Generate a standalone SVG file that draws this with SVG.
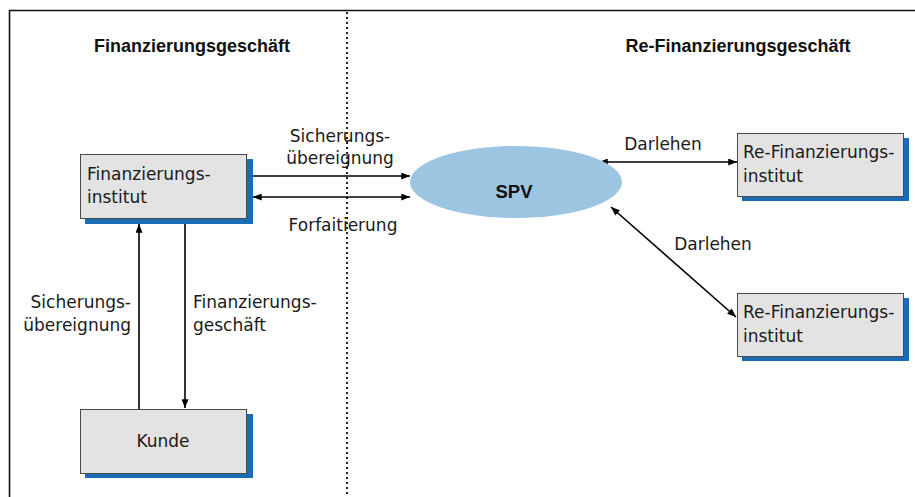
<svg xmlns="http://www.w3.org/2000/svg" width="915" height="497" viewBox="0 0 915 497">
<defs>
<style>
.lbl{font-family:"DejaVu Sans","Liberation Sans",sans-serif;font-size:17px;fill:#1a1a1a}
.hdr{font-family:"Liberation Sans",Arial,sans-serif;font-size:18px;font-weight:bold;fill:#111}
.box{fill:#e3e3e3;stroke:#4a4a4a;stroke-width:1}
.shadow{fill:#1a6db4}
.conn{stroke:#000;stroke-width:1.6;fill:none}
</style>
<marker id="ah" viewBox="0 0 10 8" refX="10" refY="4" markerWidth="10" markerHeight="7" markerUnits="userSpaceOnUse" orient="auto-start-reverse">
<path d="M0,0 L10,4 L0,8 z" fill="#000"/>
</marker>
</defs>
<rect width="915" height="497" fill="#fff"/>
<g id="frame">
<path d="M9.5,497 V10.5 H915" fill="none" stroke="#111" stroke-width="1.6"/>
<line x1="347" y1="12" x2="347" y2="497" stroke="#222" stroke-width="2" stroke-dasharray="2 3"/>
<text class="hdr" x="192" y="52" text-anchor="middle">Finanzierungsgeschäft</text>
<text class="hdr" x="738" y="52" text-anchor="middle">Re-Finanzierungsgeschäft</text>
</g>
<g id="connectors">
<line class="conn" x1="247" y1="176" x2="410" y2="176" marker-end="url(#ah)"/>
<line class="conn" x1="253" y1="197" x2="410" y2="197" marker-start="url(#ah)" marker-end="url(#ah)"/>
<line class="conn" x1="599" y1="162" x2="737" y2="162" marker-start="url(#ah)" marker-end="url(#ah)"/>
<line class="conn" x1="611" y1="207" x2="736" y2="317" marker-start="url(#ah)" marker-end="url(#ah)"/>
<line class="conn" x1="139" y1="409" x2="139" y2="224" marker-end="url(#ah)"/>
<line class="conn" x1="185" y1="224" x2="185" y2="408" marker-end="url(#ah)"/>
<text class="lbl" x="340" y="142" text-anchor="middle">Sicherungs-</text>
<text class="lbl" x="340" y="164" text-anchor="middle">übereignung</text>
<text class="lbl" x="343" y="231" text-anchor="middle">Forfaitierung</text>
<text class="lbl" x="663" y="150" text-anchor="middle">Darlehen</text>
<text class="lbl" x="713" y="250" text-anchor="middle">Darlehen</text>
<text class="lbl" x="131" y="308" text-anchor="end">Sicherungs-</text>
<text class="lbl" x="131" y="331" text-anchor="end">übereignung</text>
<text class="lbl" x="193" y="308">Finanzierungs-</text>
<text class="lbl" x="193" y="331">geschäft</text>
</g>
<g id="finanzierungsinstitut">
<rect class="shadow" x="85" y="159" width="168" height="65"/>
<rect class="box" x="80.5" y="154.5" width="166" height="64"/>
<text class="lbl" x="87" y="180">Finanzierungs-</text>
<text class="lbl" x="87" y="203">institut</text>
</g>
<g id="kunde">
<rect class="shadow" x="85" y="414" width="168" height="64"/>
<rect class="box" x="80.5" y="409.5" width="166" height="64"/>
<text class="lbl" x="163" y="447" text-anchor="middle">Kunde</text>
</g>
<g id="spv">
<ellipse cx="516" cy="182" rx="106" ry="36" fill="#9cc5e2"/>
<text x="514" y="198" text-anchor="middle" font-family="Liberation Sans,Arial,sans-serif" font-size="18.5" font-weight="bold" fill="#111">SPV</text>
</g>
<g id="refin1">
<rect class="shadow" x="742" y="138" width="167" height="63"/>
<rect class="box" x="737.5" y="133.5" width="166" height="63"/>
<text class="lbl" x="743" y="158">Re-Finanzierungs-</text>
<text class="lbl" x="743" y="182">institut</text>
</g>
<g id="refin2">
<rect class="shadow" x="742" y="298" width="167" height="63"/>
<rect class="box" x="737.5" y="293.5" width="166" height="63"/>
<text class="lbl" x="743" y="318">Re-Finanzierungs-</text>
<text class="lbl" x="743" y="342">institut</text>
</g>
</svg>
